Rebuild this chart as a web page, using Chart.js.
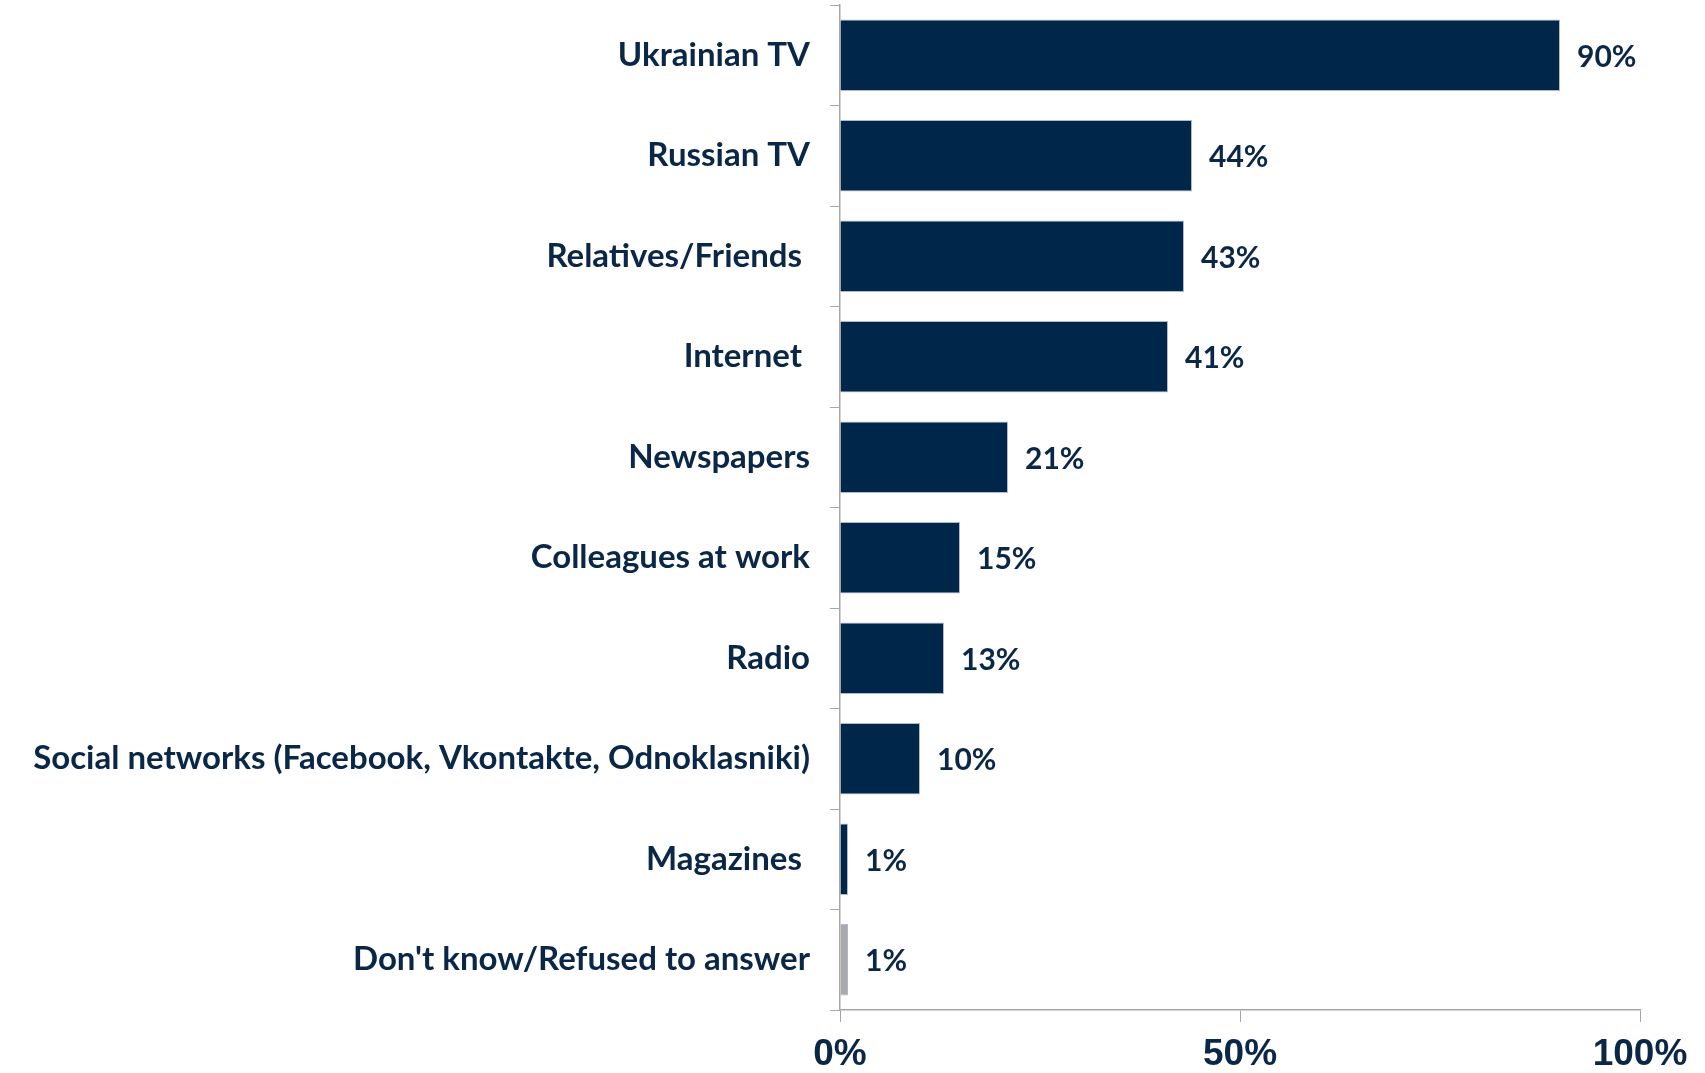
<!DOCTYPE html>
<html>
<head>
<meta charset="utf-8">
<script src="https://cdn.jsdelivr.net/npm/chart.js@4"></script>
<style>
  html, body { margin: 0; padding: 0; background: #fff; }
  #wrap { width: 1705px; height: 1073px; }
</style>
</head>
<body>
<div id="wrap"><canvas id="myChart" width="1705" height="1073"></canvas></div>
<script>
// sources of information
const categories = [
  'Ukrainian TV',
  'Russian TV',
  'Relatives/Friends ',
  'Internet ',
  'Newspapers',
  'Colleagues at work',
  'Radio',
  'Social networks (Facebook, Vkontakte, Odnoklasniki)',
  'Magazines ',
  "Don't know/Refused to answer"
];
const values = [90, 44, 43, 41, 21, 15, 13, 10, 1, 1];
const barColors = ['#00264a', '#00264a', '#00264a', '#00264a', '#00264a',
                   '#00264a', '#00264a', '#00264a', '#00264a', '#aaaaaa'];
const xTicks = [0, 50, 100];

const navy = '#0b2747';
const labelFont = 'Lato, sans-serif';

// value labels at the end of each bar
const valueLabels = {
  id: 'valueLabels',
  afterDatasetsDraw(chart) {
    const ctx = chart.ctx;
    const meta = chart.getDatasetMeta(0);
    ctx.save();
    ctx.font = 'bold 30px ' + labelFont;
    ctx.fillStyle = navy;
    ctx.textAlign = 'left';
    ctx.textBaseline = 'middle';
    meta.data.forEach(function(bar, i) {
      ctx.fillText(values[i] + '%', bar.x + 17, bar.y + 2);
    });
    ctx.restore();
  }
};

const chartdata = {
  labels: categories,
  datasets: [{
    data: values,
    backgroundColor: barColors,
    borderColor: 'rgba(120,140,165,0.6)',
    borderWidth: 1,
    categoryPercentage: 0.71,
    barPercentage: 1
  }]
};

const config = {
  type: 'bar',
  data: chartdata,
  plugins: [valueLabels],
  options: {
    indexAxis: 'y',
    responsive: false,
    animation: false,
    layout: { padding: { top: 5, right: 65, left: 0, bottom: 0 } },
    plugins: { legend: { display: false }, tooltip: { enabled: false } },
    scales: {
      x: {
        min: 0,
        max: 100,
        afterBuildTicks(scale) {
          scale.ticks = xTicks.map(v => ({ value: v }));
        },
        afterFit(scale) { scale.height = 63; },
        grid: { drawOnChartArea: false, tickLength: 12, color: '#a6a6a6' },
        border: { color: '#a6a6a6', width: 1.5 },
        ticks: {
          padding: 11,
          color: navy,
          font: { family: '"Liberation Sans Narrow", "Arial Narrow", sans-serif', size: 37, weight: 'bold' },
          callback: v => v + '%'
        }
      },
      y: {
        offset: true,
        afterFit(scale) {
          scale.width = 840;
          scale.paddingTop = 0;
          scale.paddingBottom = 0;
        },
        grid: { drawOnChartArea: false, offset: true, tickLength: 10, color: '#a6a6a6' },
        border: { color: '#a6a6a6', width: 1.5 },
        ticks: {
          padding: 20,
          color: navy,
          font: { family: labelFont, size: 33, weight: 'bold' }
        }
      }
    }
  }
};

var myChart = new Chart(document.getElementById('myChart'), config);
</script>
</body>
</html>
